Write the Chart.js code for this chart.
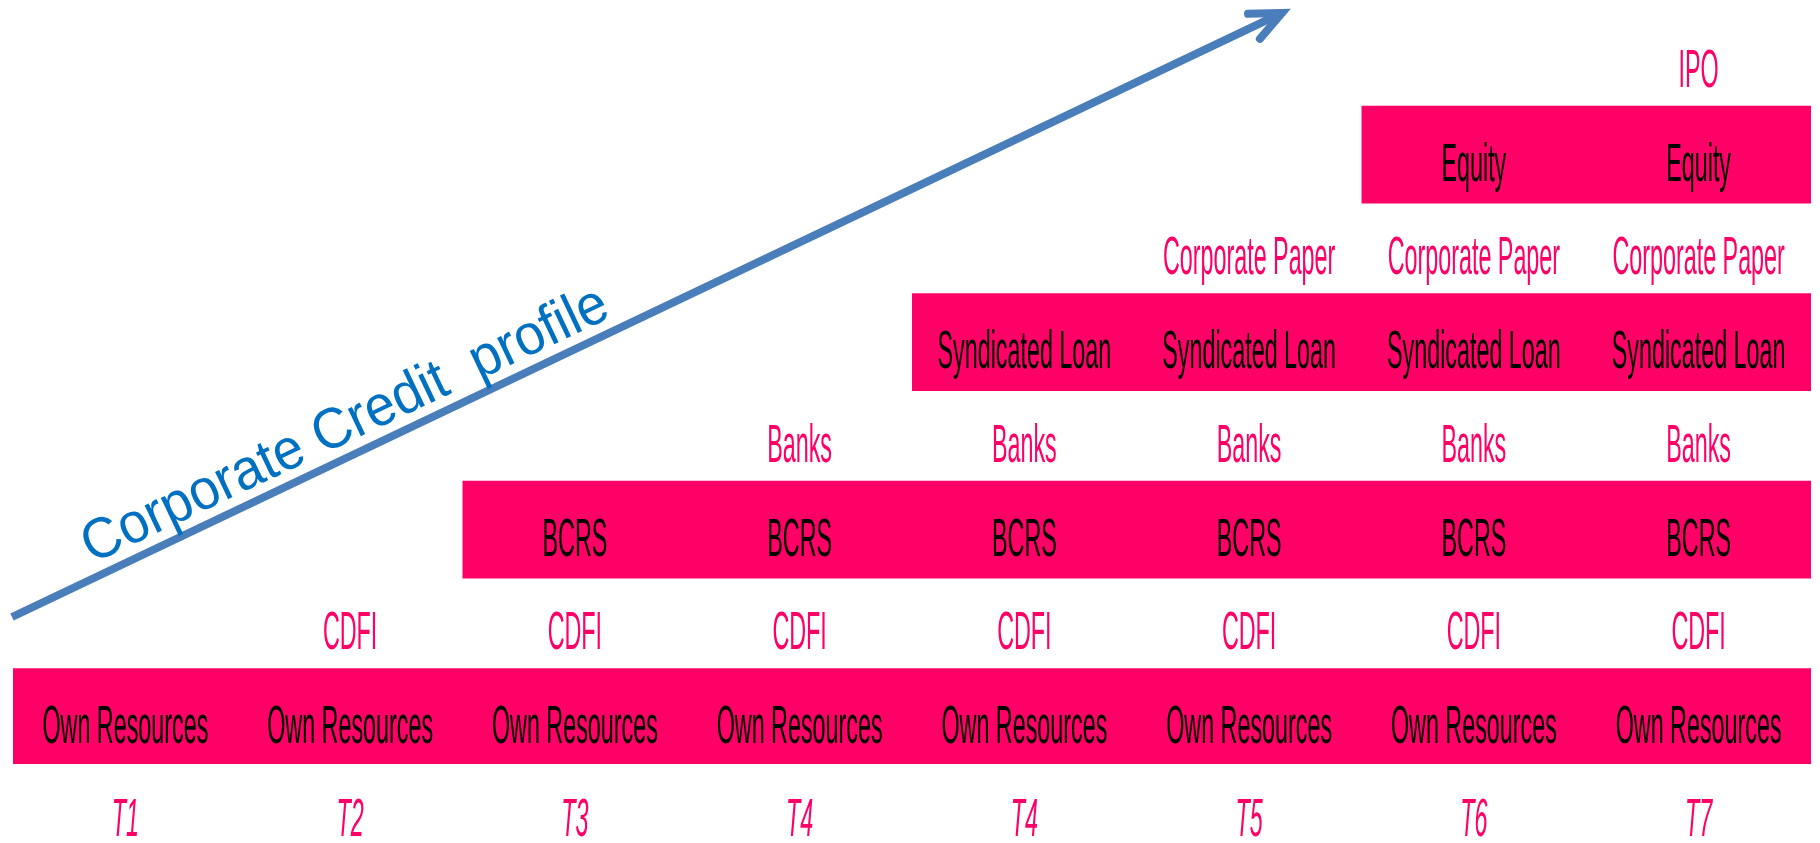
<!DOCTYPE html>
<html>
<head>
<meta charset="utf-8">
<script src="https://cdn.jsdelivr.net/npm/chart.js@4.4.1/dist/chart.umd.min.js"></script>
<style>
  html, body { margin: 0; padding: 0; background: #ffffff; }
  #wrap { width: 1820px; height: 843px; }
</style>
</head>
<body>
<div id="wrap"><canvas id="c" width="1820" height="843"></canvas></div>
<script>
// ---- data ----
const periods = ['T1', 'T2', 'T3', 'T4', 'T4', 'T5', 'T6', 'T7'];
const sources = ['Own Resources', 'CDFI', 'BCRS', 'Banks', 'Syndicated Loan', 'Corporate Paper', 'Equity', 'IPO'];
// index in `periods` from which each source is available
const firstPeriod = [0, 1, 2, 3, 4, 5, 6, 7];
// sources shown in a filled band
const boxedSources = ['Own Resources', 'BCRS', 'Syndicated Loan', 'Equity'];
const arrowTitle = 'Corporate Credit  profile';

// ---- build chart data ----
const rowOrder = sources.slice().reverse(); // top row first
const nP = periods.length;
const boxedData = rowOrder.map(s => boxedSources.includes(s) ? [firstPeriod[sources.indexOf(s)], nP] : null);
const listedData = rowOrder.map(s => boxedSources.includes(s) ? null : [firstPeriod[sources.indexOf(s)], nP]);

const PINK = '#FF0066';
const FONT = "'Liberation Sans', Arial, sans-serif";
const SQUEEZE = 0.44;

function squeezedText(ctx, text, x, y, size, color, italic) {
  ctx.save();
  ctx.translate(x, y);
  ctx.scale(SQUEEZE, 1);
  ctx.font = (italic ? 'italic ' : '') + size + 'px ' + FONT;
  ctx.fillStyle = color;
  ctx.textAlign = 'center';
  ctx.textBaseline = 'alphabetic';
  ctx.fillText(text, 0, 0);
  ctx.restore();
}

const labelPlugin = {
  id: 'cellLabels',
  afterDatasetsDraw(chart) {
    const ctx = chart.ctx;
    const xs = chart.scales.x;
    const area = chart.chartArea;
    chart.data.datasets.forEach((ds, di) => {
      const meta = chart.getDatasetMeta(di);
      meta.data.forEach((el, j) => {
        const v = ds.data[j];
        if (!v) return;
        for (let c = v[0]; c < v[1]; c++) {
          const x = xs.getPixelForValue(c + 0.5);
          squeezedText(ctx, rowOrder[j], x, el.y + 26, 53, ds.labelColor, false);
        }
      });
    });
    // period labels under the bands
    periods.forEach((p, i) => {
      const x = xs.getPixelForValue(i + 0.5);
      squeezedText(ctx, p, x, area.bottom + 72, 53, PINK, true);
    });
  }
};

const arrowPlugin = {
  id: 'profileArrow',
  afterDraw(chart) {
    const ctx = chart.ctx;
    const start = { x: 12, y: 617 };
    const tip = { x: 1282, y: 13 };
    const ang = Math.atan2(tip.y - start.y, tip.x - start.x);
    const d = { x: Math.cos(ang), y: Math.sin(ang) };
    const n = { x: d.y, y: -d.x }; // perpendicular, pointing up-left
    ctx.save();
    ctx.strokeStyle = '#4A7EBB';
    ctx.lineWidth = 8;
    ctx.lineCap = 'butt';
    ctx.beginPath();
    ctx.moveTo(start.x, start.y);
    ctx.lineTo(tip.x - d.x * 4, tip.y - d.y * 4);
    ctx.stroke();
    // open arrow head
    const barb = 34, spread = 24 * Math.PI / 180;
    const back = ang + Math.PI;
    ctx.lineCap = 'round';
    ctx.lineJoin = 'miter';
    ctx.beginPath();
    ctx.moveTo(tip.x + Math.cos(back - spread) * barb, tip.y + Math.sin(back - spread) * barb);
    ctx.lineTo(tip.x, tip.y);
    ctx.lineTo(tip.x + Math.cos(back + spread) * barb, tip.y + Math.sin(back + spread) * barb);
    ctx.stroke();
    // title along the arrow
    const t = 95, off = 13.5;
    const ox = start.x + d.x * t + n.x * off;
    const oy = start.y + d.y * t + n.y * off;
    ctx.translate(ox, oy);
    ctx.rotate(ang);
    ctx.scale(1, 1.06);
    ctx.font = '54px ' + FONT;
    ctx.fillStyle = '#0070C0';
    ctx.textAlign = 'left';
    ctx.textBaseline = 'alphabetic';
    ctx.fillText(arrowTitle, 0, 0);
    ctx.restore();
  }
};

new Chart(document.getElementById('c'), {
  type: 'bar',
  data: {
    labels: rowOrder,
    datasets: [
      {
        label: 'Boxed sources',
        data: boxedData,
        backgroundColor: PINK,
        borderWidth: 0,
        grouped: false,
        barPercentage: 1.042,
        categoryPercentage: 1,
        labelColor: '#000000'
      },
      {
        label: 'Listed sources',
        data: listedData,
        backgroundColor: 'rgba(0,0,0,0)',
        borderWidth: 0,
        grouped: false,
        barPercentage: 1.042,
        categoryPercentage: 1,
        labelColor: PINK
      }
    ]
  },
  options: {
    indexAxis: 'y',
    responsive: false,
    animation: false,
    events: [],
    layout: { padding: { left: 13, right: 9, top: 14, bottom: 79 } },
    plugins: { legend: { display: false }, tooltip: { enabled: false } },
    scales: {
      x: { type: 'linear', min: 0, max: nP, display: false },
      y: { type: 'category', display: false, offset: true }
    }
  },
  plugins: [labelPlugin, arrowPlugin]
});
</script>
</body>
</html>
